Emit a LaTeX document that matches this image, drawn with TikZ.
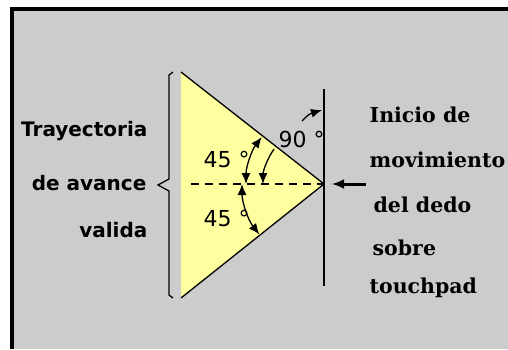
\documentclass[tikz,border=0pt]{standalone}
\usepackage{fontspec}
\setmainfont{DejaVu Serif}
\setsansfont{DejaVu Sans}
\usetikzlibrary{arrows.meta}
\definecolor{fondo}{RGB}{204,204,204}
\definecolor{amarillo}{RGB}{255,255,160}

\begin{document}
\begin{tikzpicture}[x=1pt, y=-1pt, line width=1.3pt,
    punta/.style={-{Latex[length=11pt,width=9pt]}},
    dobpunta/.style={{Latex[length=11pt,width=9pt]}-{Latex[length=11pt,width=9pt]}},
    textoizq/.style={anchor=base east, inner sep=0pt, font=\sffamily\bfseries\fontsize{20}{22}\selectfont},
    textoder/.style={anchor=base west, inner sep=0pt, font=\rmfamily\bfseries\fontsize{20.5}{22}\selectfont},
    grados/.style={anchor=base west, inner sep=0pt, font=\sffamily\fontsize{22}{24}\selectfont}]
    \useasboundingbox (0,0) rectangle (508,349);
    % Fondo y marco
    \fill[black] (10,7) rectangle (508,349);
    \fill[fondo] (14,11) rectangle (508,349);
    % Triangulo de avance
    \coordinate (sup) at (181,72);
    \coordinate (inf) at (181,298);
    \coordinate (vertice) at (324,184);
    \fill[amarillo] (sup) -- (vertice) -- (inf) -- cycle;
    \draw (sup) -- (vertice) -- (inf);
    % Linea del touchpad
    \draw (324,89) -- (324,286);
    % Eje (trazos)
    \draw[dash pattern=on 8pt off 6pt] (191,184) -- (331,184);
    % Llave
    \draw (173,72) -- (169,75) -- (169,179) -- (158,185) -- (169,191) -- (169,295) -- (173,298);
    % Flecha de inicio
    \coordinate (flecha) at (366,184);
    \draw[line width=3pt, -{Latex[length=12pt,width=10pt]}] (flecha) -- (332,184);
    % Cotas de 45
    \draw[dobpunta] (vertice) ++(180:78) arc[start angle=180, end angle=217, radius=78];
    \draw[dobpunta] (vertice) ++(180:82) arc[start angle=180, end angle=142, radius=82];
    % Cota de 90
    \draw[punta] (vertice) ++(215:61) arc[start angle=215, end angle=180, radius=61];
    \draw[punta] (302,121) .. controls (309,114) .. (322,110);
    % Angulos
    \node[grados] (ang45sup) at (203,167) {45 °};
    \node[grados] (ang45inf) at (203,226) {45 °};
    \node[grados] (ang90) at (278,147) {90 °};
    % Texto izquierdo
    \node[textoizq] (tray) at (148,136) {Trayectoria};
    \node[textoizq] (avance) at (147,190) {de avance};
    \node[textoizq] (valida) at (148,237) {valida};
    % Texto derecho
    \foreach \txt/\xx/\yy/\nombre in {Inicio de/369/122/inicio, movimiento/369/167/mov,
        del dedo/373/212/dedo, sobre/372/255/sobre, touchpad/369/293/touch} {
        \node[textoder] (\nombre) at (\xx,\yy) {\txt};
    }
\end{tikzpicture}
\end{document}
